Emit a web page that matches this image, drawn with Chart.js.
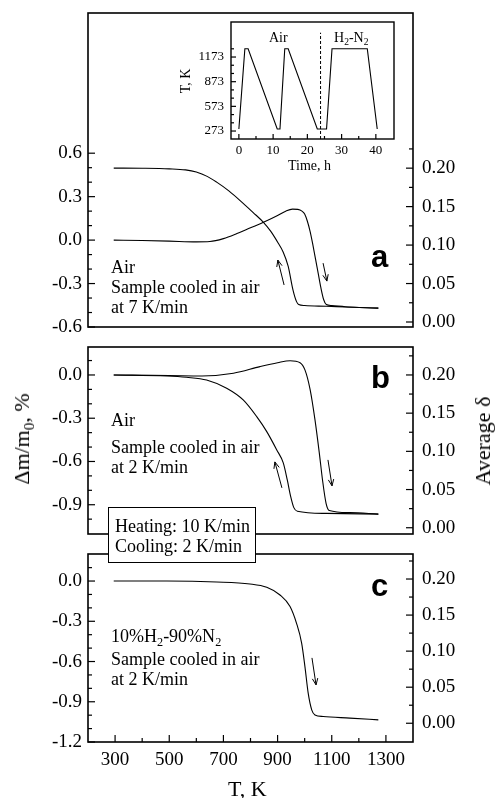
<!DOCTYPE html>
<html>
<head>
<meta charset="utf-8">
<script src="https://cdn.jsdelivr.net/npm/chart.js@4.4.1/dist/chart.umd.min.js"></script>
<style>
  body { margin: 0; background: #fff; }
  #wrap { position: relative; width: 496px; height: 798px; overflow: hidden; background: #fff;
          font-family: "Liberation Serif", "Times New Roman", serif; color: #000; }
  canvas { position: absolute; left: 0; top: 0; }
  .t { position: absolute; white-space: nowrap; font-size: 18px; line-height: 20px; }
  .s { position: absolute; white-space: nowrap; font-size: 14px; line-height: 16px; }
  .sub { font-size: 0.68em; position: relative; top: 0.32em; }
  .lab { position: absolute; font-family: "Liberation Sans", Arial, sans-serif; font-weight: bold;
         font-size: 31px; line-height: 36px; }
  .rot { position: absolute; white-space: nowrap; font-size: 22px; line-height: 24px;
         transform: translate(-50%, -50%) rotate(-90deg); }
  #box { position: absolute; left: 108px; top: 507px; width: 146px; height: 54px;
         border: 1px solid #000; background: #fff; }
</style>
</head>
<body>
<div id="wrap">
  <canvas id="panelA" width="496" height="798"></canvas>
  <canvas id="inset" width="496" height="798"></canvas>
  <canvas id="panelB" width="496" height="798"></canvas>
  <canvas id="panelC" width="496" height="798"></canvas>

  <!-- inset labels -->
  <div class="s" style="left:269px; top:30px;">Air</div>
  <div class="s" style="left:334px; top:30px;">H<span class="sub">2</span>-N<span class="sub">2</span></div>
  <div class="s" style="left:186px; top:81px; transform: translate(-50%,-50%) rotate(-90deg);">T, K</div>
  <div class="s" style="left:288px; top:158px;">Time, h</div>

  <!-- panel a -->
  <div class="t" style="left:111px; top:257px;">Air</div>
  <div class="t" style="left:111px; top:277px;">Sample cooled in air</div>
  <div class="t" style="left:111px; top:297px;">at 7 K/min</div>
  <div class="lab" style="left:371px; top:239px;">a</div>

  <!-- panel b -->
  <div class="t" style="left:111px; top:410px;">Air</div>
  <div class="t" style="left:111px; top:437px;">Sample cooled in air</div>
  <div class="t" style="left:111px; top:457px;">at 2 K/min</div>
  <div class="lab" style="left:371px; top:360px;">b</div>

  <!-- rate box -->
  <div id="box"></div>
  <div class="t" style="left:115px; top:516px;">Heating: 10 K/min</div>
  <div class="t" style="left:115px; top:536px;">Cooling: 2 K/min</div>

  <!-- panel c -->
  <div class="t" style="left:111px; top:626px;">10%H<span class="sub">2</span>-90%N<span class="sub">2</span></div>
  <div class="t" style="left:111px; top:649px;">Sample cooled in air</div>
  <div class="t" style="left:111px; top:669px;">at 2 K/min</div>
  <div class="lab" style="left:371px; top:568px;">c</div>

  <!-- shared axis titles -->
  <div class="rot" style="left:23px; top:439px;">&Delta;m/m<span class="sub">0</span>, %</div>
  <div class="rot" style="left:483px; top:441px;">Average &delta;</div>
  <div class="t" style="left:228px; top:777px; font-size:22px; line-height:24px;">T, K</div>
</div>

<script>
// ---- data (T in K, mass change in %) ----
const tHeatA = [295, 400, 500, 600, 650, 700, 750, 800, 850, 900, 930, 955, 975, 990, 1000, 1010, 1020, 1030, 1040, 1050, 1060, 1070, 1080, 1100, 1150, 1200, 1272];
const mHeatA = [0, -0.003, -0.007, -0.012, -0.01, 0.01, 0.045, 0.085, 0.125, 0.17, 0.2, 0.214, 0.212, 0.2, 0.18, 0.13, 0.06, -0.03, -0.13, -0.23, -0.33, -0.41, -0.445, -0.452, -0.46, -0.465, -0.47];
const tCoolA = [295, 400, 500, 560, 600, 640, 675, 720, 773, 810, 847, 875, 902, 920, 939, 957, 970, 978, 1000, 1080, 1150, 1272];
const mCoolA = [0.497, 0.496, 0.492, 0.485, 0.47, 0.44, 0.40, 0.34, 0.254, 0.19, 0.124, 0.06, -0.02, -0.08, -0.18, -0.345, -0.425, -0.445, -0.452, -0.457, -0.462, -0.47];

const tHeatB = [295, 500, 621, 737, 835, 900, 946, 983, 1001, 1020, 1038, 1054, 1066, 1079, 1091, 1167, 1272];
const mHeatB = [0, -0.004, -0.007, 0.012, 0.058, 0.085, 0.099, 0.085, 0.035, -0.10, -0.31, -0.54, -0.73, -0.89, -0.94, -0.955, -0.965];
const tCoolB = [295, 491, 564, 638, 712, 773, 823, 860, 897, 921, 936, 948, 960, 973, 1080, 1272];
const mCoolB = [0, -0.007, -0.016, -0.035, -0.092, -0.173, -0.289, -0.393, -0.52, -0.61, -0.73, -0.84, -0.92, -0.945, -0.96, -0.965];

const tHeatC = [295, 491, 675, 798, 860, 909, 946, 970, 989, 1001, 1013, 1026, 1038, 1068, 1167, 1272];
const mHeatC = [0, 0, -0.007, -0.022, -0.047, -0.104, -0.19, -0.315, -0.464, -0.638, -0.836, -0.96, -0.998, -1.01, -1.022, -1.035];

// inset: temperature programme
const timeH = [0, 1.75, 2.7, 11.2, 12.0, 13.4, 14.4, 22.9, 25.6, 27.2, 37.5, 40.4];
const tempK = [298, 1273, 1273, 298, 298, 1273, 1273, 298, 298, 1273, 1273, 298];
const gasSwitchH = 23.85;
const gasSwitchTop = 1469;

// arrows [T0, m0, T1, m1], head at the second point
const arrowsA = [[924, -0.31, 901, -0.138], [1068, -0.159, 1082, -0.283]];
const arrowsB = [[916, -0.783, 890, -0.603], [1086, -0.589, 1101, -0.769]];
const arrowsC = [[1027, -0.573, 1042, -0.774]];

// ticks
const xMajor = [300, 500, 700, 900, 1100, 1300];
const xMinor = [400, 600, 800, 1000, 1200];
const leftMajorA = [-0.6, -0.3, 0, 0.3, 0.6];
const leftMinorA = [-0.5, -0.4, -0.2, -0.1, 0.1, 0.2, 0.4, 0.5];
const leftMajorB = [-0.9, -0.6, -0.3, 0];
const leftMinorB = [-1.0, -0.8, -0.7, -0.5, -0.4, -0.2, -0.1, 0.1];
const leftMajorC = [-1.2, -0.9, -0.6, -0.3, 0];
const leftMinorC = [-1.1, -1.0, -0.8, -0.7, -0.5, -0.4, -0.2, -0.1, 0.1];
const deltaMajor = [0, 0.05, 0.10, 0.15, 0.20];
const deltaMinor = [0.025, 0.075, 0.125, 0.175, 0.225];
const insetYMajor = [273, 573, 873, 1173];
const insetYMinor = [373, 473, 673, 773, 973, 1073, 1273];
const insetXMajor = [0, 10, 20, 30, 40];
const insetXMinor = [5, 15, 25, 35];

Chart.defaults.font.family = '"Liberation Serif", "Times New Roman", serif';
Chart.defaults.color = '#000';

// keep the axis boxes at fixed sizes and stop label overflow from moving the plot area
function fixBox(size, show) {
  return s => {
    if (show !== false) {
      if (s.isHorizontal()) s.height = size; else s.width = size;
    }
    s.paddingTop = 0; s.paddingBottom = 0; s.paddingLeft = 0; s.paddingRight = 0;
  };
}

// inward ticks, frame and arrows
const panelDecor = {
  id: 'panelDecor',
  beforeDatasetsDraw(chart, args, opts) {
    if (!opts.whiteFill) return;
    const a = chart.chartArea;
    chart.ctx.save();
    chart.ctx.fillStyle = '#fff';
    chart.ctx.fillRect(a.left, a.top, a.right - a.left, a.bottom - a.top);
    chart.ctx.restore();
  },
  afterDatasetsDraw(chart, args, opts) {
    const ctx = chart.ctx;
    const a = chart.chartArea;
    ctx.save();
    ctx.strokeStyle = '#000';
    ctx.lineWidth = 1.2;
    (opts.marks || []).forEach(spec => {
      const s = chart.scales[spec.scale];
      const draw = (v, len) => {
        const p = s.getPixelForValue(v);
        ctx.beginPath();
        if (spec.side === 'left') { ctx.moveTo(a.left, p); ctx.lineTo(a.left + len, p); }
        else if (spec.side === 'right') { ctx.moveTo(a.right, p); ctx.lineTo(a.right - len, p); }
        else { ctx.moveTo(p, a.bottom); ctx.lineTo(p, a.bottom - len); }
        ctx.stroke();
      };
      spec.major.forEach(v => draw(v, spec.len[0]));
      spec.minor.forEach(v => draw(v, spec.len[1]));
    });

    ctx.lineWidth = 1;
    (opts.arrows || []).forEach(ar => {
      const x0 = chart.scales.x.getPixelForValue(ar[0]);
      const y0 = chart.scales.y.getPixelForValue(ar[1]);
      const x1 = chart.scales.x.getPixelForValue(ar[2]);
      const y1 = chart.scales.y.getPixelForValue(ar[3]);
      const ang = Math.atan2(y1 - y0, x1 - x0);
      ctx.beginPath();
      ctx.moveTo(x0, y0);
      ctx.lineTo(x1, y1);
      ctx.moveTo(x1 - 7 * Math.cos(ang - 0.4), y1 - 7 * Math.sin(ang - 0.4));
      ctx.lineTo(x1, y1);
      ctx.lineTo(x1 - 7 * Math.cos(ang + 0.4), y1 - 7 * Math.sin(ang + 0.4));
      ctx.stroke();
    });

    ctx.lineWidth = opts.frameWidth || 1.6;
    ctx.strokeRect(a.left, a.top, a.right - a.left, a.bottom - a.top);
    ctx.restore();
  }
};

function pairs(xs, ys) {
  return xs.map((x, i) => ({ x: x, y: ys[i] }));
}

function curve(points) {
  return {
    data: points,
    borderColor: '#000',
    borderWidth: 1.1,
    pointRadius: 0,
    fill: false,
    cubicInterpolationMode: 'monotone',
    yAxisID: 'y'
  };
}

function panelChart(id, o) {
  return new Chart(document.getElementById(id), {
    type: 'line',
    data: { datasets: o.series.map(curve) },
    options: {
      responsive: false,
      animation: false,
      events: [],
      layout: { padding: { left: 0, right: 0, top: o.top, bottom: o.bottom } },
      scales: {
        x: {
          type: 'linear', min: 200, max: 1400, display: o.showX, position: 'bottom',
          grid: { display: false, drawTicks: false }, border: { display: false },
          afterBuildTicks: s => { s.ticks = xMajor.map(v => ({ value: v })); },
          afterFit: fixBox(56, o.showX),
          ticks: { padding: 7, autoSkip: false, maxRotation: 0, font: { size: 19 }, color: '#000',
                   callback: v => String(v) }
        },
        y: {
          type: 'linear', min: o.yMin, max: o.yMax, position: 'left',
          grid: { display: false, drawTicks: false }, border: { display: false },
          afterBuildTicks: s => { s.ticks = o.leftMajor.map(v => ({ value: v })); },
          afterFit: fixBox(88),
          ticks: { padding: 6, autoSkip: false, font: { size: 19 }, color: '#000',
                   callback: v => v.toFixed(1) }
        },
        y2: {
          type: 'linear', min: o.dMin, max: o.dMax, position: 'right',
          grid: { display: false, drawTicks: false }, border: { display: false },
          afterBuildTicks: s => { s.ticks = deltaMajor.map(v => ({ value: v })); },
          afterFit: fixBox(83),
          ticks: { padding: 9, autoSkip: false, font: { size: 19 }, color: '#000',
                   callback: v => v.toFixed(2) }
        }
      },
      plugins: {
        legend: { display: false },
        tooltip: { enabled: false },
        panelDecor: {
          marks: [
            { scale: 'y', side: 'left', major: o.leftMajor, minor: o.leftMinor, len: [7, 4] },
            { scale: 'y2', side: 'right', major: deltaMajor, minor: deltaMinor, len: [7, 4] }
          ].concat(o.showX ? [{ scale: 'x', side: 'bottom', major: xMajor, minor: xMinor, len: [7, 4] }] : []),
          arrows: o.arrows
        }
      }
    },
    plugins: [panelDecor]
  });
}

panelChart('panelA', {
  series: [pairs(tHeatA, mHeatA), pairs(tCoolA, mCoolA)],
  top: 13, bottom: 471, showX: false,
  yMin: -0.6, yMax: 1.568, dMin: -0.0065, dMax: 0.4017,
  leftMajor: leftMajorA, leftMinor: leftMinorA, arrows: arrowsA
});

panelChart('panelB', {
  series: [pairs(tHeatB, mHeatB), pairs(tCoolB, mCoolB)],
  top: 347, bottom: 264, showX: false,
  yMin: -1.103, yMax: 0.194, dMin: -0.0082, dMax: 0.2366,
  leftMajor: leftMajorB, leftMinor: leftMinorB, arrows: arrowsB
});

panelChart('panelC', {
  series: [pairs(tHeatC, mHeatC)],
  top: 554, bottom: 0, showX: true,
  yMin: -1.2, yMax: 0.2016, dMin: -0.026, dMax: 0.2347,
  leftMajor: leftMajorC, leftMinor: leftMinorC, arrows: arrowsC
});

// inset: temperature programme vs time
new Chart(document.getElementById('inset'), {
  type: 'line',
  data: {
    datasets: [
      { data: pairs(timeH, tempK), borderColor: '#000', borderWidth: 1.1, pointRadius: 0, tension: 0 },
      { data: [{ x: gasSwitchH, y: 176 }, { x: gasSwitchH, y: gasSwitchTop }],
        borderColor: '#000', borderWidth: 1, borderDash: [3, 2], pointRadius: 0 }
    ]
  },
  options: {
    responsive: false,
    animation: false,
    events: [],
    layout: { padding: { left: 0, right: 102, top: 22, bottom: 629 } },
    scales: {
      x: {
        type: 'linear', min: -2.3, max: 45.3, position: 'bottom',
        grid: { display: false, drawTicks: false }, border: { display: false },
        afterBuildTicks: s => { s.ticks = insetXMajor.map(v => ({ value: v })); },
        afterFit: fixBox(30),
        ticks: { padding: 4, autoSkip: false, maxRotation: 0, font: { size: 13 }, color: '#000',
                 callback: v => String(v) }
      },
      y: {
        type: 'linear', min: 176, max: 1599, position: 'left',
        grid: { display: false, drawTicks: false }, border: { display: false },
        afterBuildTicks: s => { s.ticks = insetYMajor.map(v => ({ value: v })); },
        afterFit: fixBox(231),
        ticks: { padding: 7, autoSkip: false, font: { size: 13 }, color: '#000',
                 callback: v => String(v) }
      }
    },
    plugins: {
      legend: { display: false },
      tooltip: { enabled: false },
      panelDecor: {
        whiteFill: true,
        frameWidth: 1.4,
        marks: [
          { scale: 'y', side: 'left', major: insetYMajor, minor: insetYMinor, len: [5, 3] },
          { scale: 'x', side: 'bottom', major: insetXMajor, minor: insetXMinor, len: [5, 3] }
        ]
      }
    }
  },
  plugins: [panelDecor]
});
</script>
</body>
</html>
